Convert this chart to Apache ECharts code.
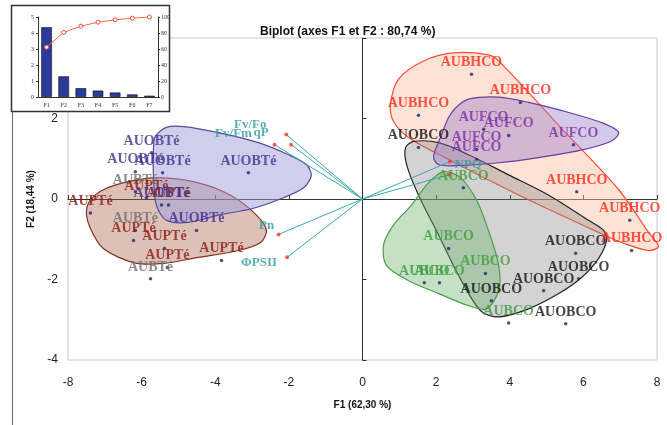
<!DOCTYPE html>
<html>
<head>
<meta charset="utf-8">
<script src="https://cdn.jsdelivr.net/npm/echarts@6/dist/echarts.min.js"></script>
<style>html,body{margin:0;padding:0;background:#fff}#chart{width:667px;height:425px}</style>
</head>
<body>
<div id="chart"></div>
<script>
// observations (F1, F2) per group
var aubhco = [[2.96,3.10],[4.29,2.40],[1.52,2.08],[5.82,0.18],[7.26,-0.53],[7.31,-1.28]];
var aufco = [[3.29,1.73],[3.97,1.58],[3.10,1.23],[3.10,0.98],[5.73,1.35]];
var auobco = [[1.52,1.28],[5.79,-1.35],[5.87,-1.98],[4.92,-2.28],[3.50,-2.53],[5.52,-3.10]];
var aubco = [[2.74,0.28],[2.34,-1.23],[3.34,-1.85],[1.68,-2.08],[2.09,-2.08],[3.97,-3.08]];
var auobte = [[-5.73,1.15],[-6.17,0.68],[-5.43,0.65],[-3.10,0.65],[-5.46,-0.15],[-4.51,-0.78]];
var aupte = [[-5.87,0.03],[-5.27,-0.15],[-7.39,-0.35],[-6.22,-1.03],[-5.38,-1.23],[-5.30,-1.70],[-3.83,-1.53]];
var aubte = [[-6.17,0.18],[-6.17,-0.78],[-5.76,-1.98]];

// group outlines (F1, F2)
var aubhcoHull = [[0.76,2.35],[0.98,2.98],[1.66,3.43],[2.47,3.63],[3.42,3.58],[3.70,3.43],[5.33,1.83],[6.96,0.23],[7.77,-0.83],[8.04,-1.18],[7.77,-1.28],[7.09,-1.10],[6.41,-0.83],[4.24,0.10],[2.34,0.98],[1.25,1.53],[0.84,1.93]];
var aufcoHull = [[2.55,2.28],[2.88,2.48],[3.70,2.53],[4.51,2.40],[5.60,2.15],[6.55,1.88],[6.96,1.65],[6.74,1.43],[5.87,1.20],[4.78,1.03],[3.70,0.90],[2.61,0.83],[2.07,0.85],[1.93,1.05],[2.15,1.60],[2.34,2.03]];
var auobcoHull = [[1.17,1.28],[1.39,1.43],[2.07,1.40],[2.88,1.10],[3.97,0.60],[5.05,0.10],[6.14,-0.53],[6.55,-0.78],[6.63,-1.03],[6.41,-1.48],[5.95,-1.95],[5.33,-2.35],[4.51,-2.73],[3.70,-2.93],[3.21,-2.78],[2.61,-1.90],[2.07,-0.90],[1.52,0.10],[1.20,0.85]];
var aubcoHull = [[2.20,0.68],[2.66,0.53],[3.10,-0.03],[3.42,-0.78],[3.70,-1.65],[3.70,-2.28],[3.37,-2.73],[2.88,-2.65],[2.07,-2.35],[1.25,-2.03],[0.65,-1.65],[0.57,-1.15],[0.84,-0.65],[1.33,-0.15],[1.79,0.40]];
var auobteHull = [[-5.63,1.55],[-5.33,1.78],[-4.86,1.80],[-3.91,1.65],[-2.83,1.40],[-2.01,1.10],[-1.52,0.85],[-1.39,0.58],[-1.60,0.28],[-2.15,0.03],[-2.96,-0.23],[-3.91,-0.40],[-4.73,-0.58],[-5.33,-0.53],[-5.60,-0.15],[-5.68,0.60],[-5.68,1.23]];
var aupteHull = [[-7.39,-0.03],[-7.04,0.23],[-6.36,0.43],[-5.54,0.53],[-4.46,0.40],[-3.56,0.08],[-2.88,-0.40],[-2.61,-0.78],[-2.77,-1.08],[-3.37,-1.28],[-4.46,-1.45],[-5.41,-1.60],[-6.22,-1.58],[-7.04,-1.23],[-7.39,-0.73],[-7.50,-0.33]];

// variables (loadings)
var varNames = ['Fv/Fo', 'Fv/Fm', 'qP', 'Pn', 'ΦPSII', 'NPQ', ''];
var varF1 = [-2.07, -2.39, -1.94, -2.28, -2.05, 2.38, 2.34];
var varF2 = [1.60, 1.35, 1.35, -0.88, -1.45, 0.93, 0.60];

// scree plot
var factors = ['F1', 'F2', 'F3', 'F4', 'F5', 'F6', 'F7'];
var eigenvalues = [4.36, 1.29, 0.55, 0.40, 0.28, 0.16, 0.08];
var cumulative = [62.3, 80.74, 88.5, 93.5, 96.5, 98.5, 100];

var labelOffsets = [[-36,-10],[-41,-11],[-30,-12],[-12,-9],[-28,5],[18,3],[0,0]];

var serif = 'Liberation Serif';
var sans = 'Liberation Sans';

function hull(outline, fill, stroke) {
    return {
        type: 'custom', xAxisIndex: 0, yAxisIndex: 0, z: 1, silent: true,
        data: [0],
        renderItem: function (params, api) {
            var pts = outline.map(function (p) { return api.coord(p); });
            return {
                type: 'polygon',
                shape: { points: pts, smooth: 0.3 },
                style: { fill: fill, stroke: stroke, lineWidth: 1.2 }
            };
        }
    };
}

function obs(name, pts, color) {
    return {
        type: 'scatter', name: name, xAxisIndex: 0, yAxisIndex: 0, z: 3,
        data: pts, symbolSize: 3.5,
        itemStyle: { color: '#22286e' },
        label: {
            show: true, position: 'top', distance: 3, formatter: name,
            color: color, fontFamily: serif, fontWeight: 'bold', fontSize: 14
        },
        labelLayout: { hideOverlap: false }
    };
}

var vecLines = [], vecEnds = [];
for (var i = 0; i < varNames.length; i++) {
    vecLines.push({ coords: [[0, 0], [varF1[i], varF2[i]]] });
    vecEnds.push({
        value: [varF1[i], varF2[i]], name: varNames[i],
        label: { position: 'inside', offset: labelOffsets[i] }
    });
}

var myChart = echarts.init(document.getElementById('chart'));

var option = {
    animation: false,
    title: {
        text: 'Biplot (axes F1 et F2 : 80,74 %)',
        left: 255, top: 21,
        textStyle: { fontFamily: sans, fontWeight: 'bold', fontSize: 12, color: '#111' }
    },
    graphic: [
        { type: 'line', z: 0, shape: { x1: 12.5, y1: 100, x2: 12.5, y2: 425 }, style: { stroke: '#666', lineWidth: 1 } },
        { type: 'rect', z: 10, shape: { x: 11.5, y: 5.5, width: 158, height: 106 }, style: { fill: '#fff', stroke: '#333', lineWidth: 1.5 } }
    ],
    grid: [
        { left: 68, right: 10, top: 38, bottom: 65, show: true, borderColor: '#cfc6c6', borderWidth: 1 },
        { left: 38, top: 17, width: 120, height: 80, z: 20 }
    ],
    xAxis: [
        {
            gridIndex: 0, type: 'value', min: -8, max: 8, interval: 2, position: 'bottom',
            axisLine: { show: false, onZero: false }, axisTick: { show: false }, splitLine: { show: false },
            axisLabel: { margin: 17, fontSize: 12, color: '#222', fontFamily: sans },
            name: 'F1 (62,30 %)', nameLocation: 'middle', nameGap: 40,
            nameTextStyle: { fontFamily: sans, fontWeight: 'bold', fontSize: 10, color: '#111' }
        },
        {
            gridIndex: 0, type: 'value', min: -8, max: 8, interval: 2, position: 'top',
            axisLine: { show: true, onZero: true, onZeroAxisIndex: 0, lineStyle: { color: '#333', width: 1 } },
            axisTick: { show: true, length: 4, lineStyle: { color: '#333' } },
            axisLabel: { show: false }, splitLine: { show: false }
        },
        {
            gridIndex: 1, type: 'category', data: factors, z: 20,
            axisLine: { lineStyle: { color: '#333' } }, axisTick: { show: false },
            axisLabel: { fontSize: 6, margin: 5, color: '#333', fontFamily: serif }
        }
    ],
    yAxis: [
        {
            gridIndex: 0, type: 'value', min: -4, max: 4, interval: 2, position: 'left',
            axisLine: { show: false, onZero: false }, axisTick: { show: false }, splitLine: { show: false },
            axisLabel: { margin: 10, fontSize: 12, color: '#222', fontFamily: sans },
            name: 'F2 (18,44 %)', nameLocation: 'middle', nameGap: 30, nameRotate: 90,
            nameTextStyle: { fontFamily: sans, fontWeight: 'bold', fontSize: 10, color: '#111' }
        },
        {
            gridIndex: 0, type: 'value', min: -4, max: 4, interval: 2, position: 'right',
            axisLine: { show: true, onZero: true, onZeroAxisIndex: 0, lineStyle: { color: '#333', width: 1 } },
            axisTick: { show: true, length: 4, lineStyle: { color: '#333' } },
            axisLabel: { show: false }, splitLine: { show: false }
        },
        {
            gridIndex: 1, type: 'value', min: 0, max: 5, interval: 1, z: 20,
            axisLine: { show: true, lineStyle: { color: '#333' } }, axisTick: { show: true, length: 2 },
            splitLine: { show: false },
            axisLabel: { fontSize: 6, margin: 4, color: '#333', fontFamily: serif }
        },
        {
            gridIndex: 1, type: 'value', min: 0, max: 100, interval: 20, position: 'right', z: 20,
            axisLine: { show: true, lineStyle: { color: '#333' } }, axisTick: { show: true, length: 2 },
            splitLine: { show: false },
            axisLabel: { fontSize: 6, margin: 3, color: '#333', fontFamily: serif }
        }
    ],
    series: [
        hull(aubhcoHull, 'rgba(250,190,165,0.45)', '#ff4b33'),
        hull(auobcoHull, 'rgba(130,130,130,0.35)', '#222222'),
        hull(aubcoHull, 'rgba(110,180,110,0.40)', '#4d9d4d'),
        hull(aufcoHull, 'rgba(150,120,200,0.40)', '#6a3d9e'),
        hull(aupteHull, 'rgba(170,100,80,0.40)', '#8a2e1e'),
        hull(auobteHull, 'rgba(160,160,220,0.50)', '#5a4a9e'),
        {
            type: 'lines', coordinateSystem: 'cartesian2d', xAxisIndex: 0, yAxisIndex: 0, z: 2,
            data: vecLines, silent: true,
            lineStyle: { color: '#3aa8ab', width: 1, opacity: 1 }
        },
        {
            type: 'scatter', xAxisIndex: 0, yAxisIndex: 0, z: 3, data: vecEnds, symbolSize: 4,
            itemStyle: { color: '#f03a2a' },
            label: {
                show: true, formatter: '{b}', color: '#2e9c9c',
                fontFamily: serif, fontWeight: 'bold', fontSize: 13
            }
        },
        obs('AUBTé', aubte, '#6f6f6f'),
        obs('AUPTé', aupte, '#8c1a12'),
        obs('AUOBTé', auobte, '#3d2f8f'),
        obs('AUBCO', aubco, '#3f9e3f'),
        obs('AUOBCO', auobco, '#111111'),
        obs('AUFCO', aufco, '#7a2fa3'),
        obs('AUBHCO', aubhco, '#ff2a1c'),
        {
            type: 'bar', xAxisIndex: 2, yAxisIndex: 2, z: 20, data: eigenvalues, barWidth: '62%',
            itemStyle: { color: '#2c3a9c', borderColor: '#111', borderWidth: 0.6 }
        },
        {
            type: 'line', xAxisIndex: 2, yAxisIndex: 3, z: 21, data: cumulative,
            symbol: 'circle', symbolSize: 4, showAllSymbol: true,
            lineStyle: { color: '#f36a4a', width: 1 },
            itemStyle: { color: '#fff', borderColor: '#f0502e', borderWidth: 1 }
        }
    ]
};

myChart.setOption(option);
</script>
</body>
</html>
